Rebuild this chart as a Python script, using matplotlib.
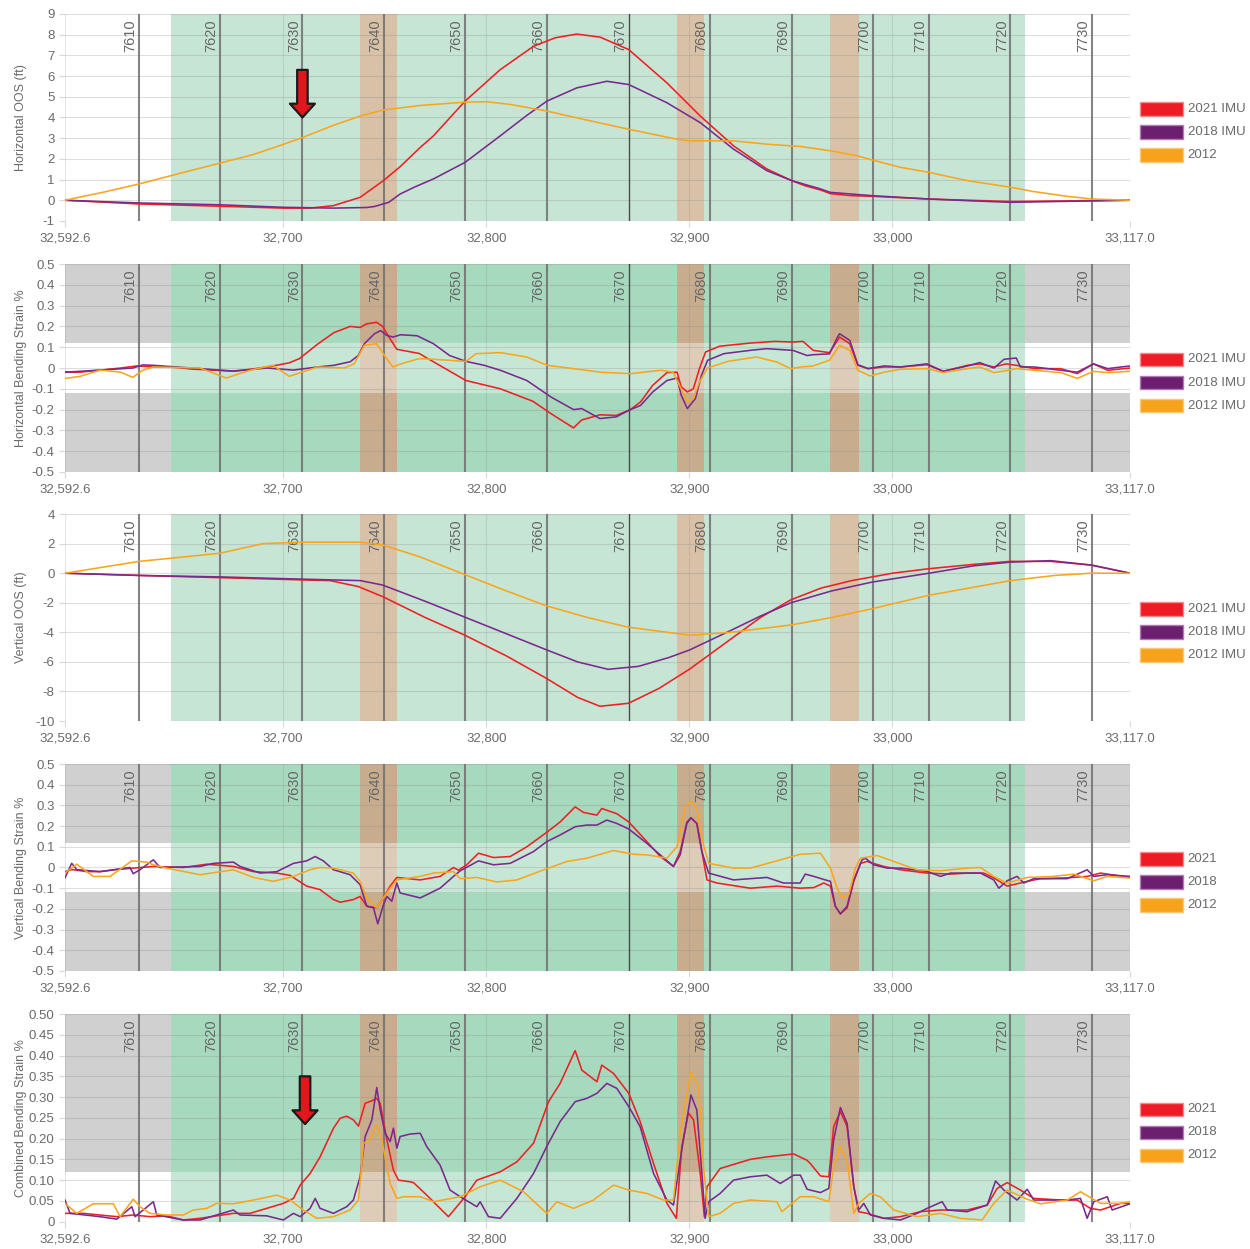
import matplotlib.pyplot as plt
from matplotlib.patches import Rectangle
import matplotlib.transforms as mtransforms

plt.rcParams['font.family'] = ['Liberation Sans', 'DejaVu Sans']

# ---- axis / layout data -------------------------------------------------
X_MIN, X_MAX = 32592.6, 33117.0
X_TICKS = [32592.6, 32700, 32800, 32900, 33000, 33117.0]
X_TICK_LABELS = ['32,592.6', '32,700', '32,800', '32,900', '33,000', '33,117.0']

STATION_LABELS = ['7610', '7620', '7630', '7640', '7650', '7660', '7670',
                  '7680', '7690', '7700', '7710', '7720', '7730']
STATION_X = [32629.2, 32669.1, 32709.5, 32749.6, 32789.6, 32829.9, 32870.3,
             32910.3, 32950.4, 32990.3, 33017.9, 33058.1, 33098.4]

GREEN_ZONE = (32644.8, 33065.5)
BROWN_ZONES = [(32738.1, 32756.3), (32893.7, 32907.1), (32969.1, 32983.6)]
STRAIN_LIMIT = 0.12

# ---- series ---------------------------------------------------------------
HOOS_2021 = [(32592.6, 0), (32629.2, -0.18), (32669.1, -0.29), (32700.1, -0.38), (32713.3, -0.38),
             (32724.8, -0.26), (32737.9, 0.14), (32749.4, 0.95), (32757.6, 1.62), (32767.5, 2.55),
             (32774.0, 3.11), (32789.6, 4.79), (32806.9, 6.31), (32823.3, 7.44), (32834, 7.85),
             (32844.6, 8.03), (32856.1, 7.88), (32870.2, 7.28), (32889.0, 5.67), (32905.4, 4.07),
             (32921.8, 2.63), (32938.2, 1.51), (32950.4, 0.95), (32957, 0.7), (32964.5, 0.5),
             (32969.5, 0.32), (32980, 0.22), (32990.3, 0.19), (33017.9, 0.06), (33058.1, -0.06),
             (33117.0, 0.0)]
HOOS_2018 = [(32592.6, 0), (32629.2, -0.13), (32669.1, -0.22), (32700.1, -0.34), (32724.8, -0.38),
             (32741.2, -0.35), (32745, -0.3), (32752, -0.1), (32757.6, 0.3), (32765, 0.65),
             (32774.0, 1.03), (32789.6, 1.83), (32806.9, 3.11), (32820, 4.1), (32829.9, 4.79),
             (32844.6, 5.43), (32859.4, 5.75), (32870.2, 5.59), (32889.0, 4.71), (32905.4, 3.75),
             (32921.8, 2.47), (32938.2, 1.43), (32950.4, 0.95), (32964.5, 0.55), (32969.5, 0.38),
             (32990.3, 0.22), (33017.9, 0.06), (33036.8, -0.02), (33058.1, -0.1), (33117.0, 0)]
HOOS_2012 = [(32592.6, 0), (32612, 0.4), (32629.2, 0.79), (32644.8, 1.19), (32669.1, 1.8),
             (32685, 2.2), (32700.1, 2.7), (32709.5, 3.03), (32724.8, 3.62), (32737.9, 4.07),
             (32749.4, 4.36), (32767.5, 4.58), (32789.6, 4.74), (32800.3, 4.76), (32811.8, 4.63),
             (32829.9, 4.31), (32847.9, 3.91), (32870.2, 3.43), (32893.9, 2.95), (32900.5, 2.87),
             (32921.8, 2.87), (32938.2, 2.71), (32954.7, 2.6), (32969.5, 2.39), (32982.6, 2.15),
             (32990.3, 1.94), (33004.0, 1.59), (33017.9, 1.35), (33036.8, 0.95), (33058.1, 0.63),
             (33069.6, 0.42), (33086.1, 0.19), (33098.4, 0.06), (33117.0, 0.0)]

HBS_2021 = [(32592.6, -0.02), (32600, -0.02), (32610, -0.01), (32620, 0.0), (32628, 0.01),
            (32636, 0.005), (32645, 0.005), (32655, -0.005), (32665, -0.01), (32675, -0.015),
            (32685, -0.005), (32695, 0.01), (32703, 0.025), (32708, 0.045), (32717, 0.115),
            (32725, 0.17), (32733, 0.2), (32738, 0.195), (32741, 0.212), (32746, 0.22),
            (32749, 0.2), (32753, 0.135), (32756, 0.09), (32767, 0.07), (32774, 0.03),
            (32790, -0.06), (32807, -0.1), (32823, -0.16), (32832, -0.22), (32843, -0.288),
            (32847, -0.25), (32856, -0.225), (32864, -0.228), (32871, -0.2), (32876, -0.163),
            (32882, -0.083), (32889, -0.022), (32894, -0.02), (32896, -0.09), (32899, -0.115),
            (32902, -0.1), (32905, -0.003), (32908, 0.077), (32915, 0.105), (32930, 0.12),
            (32942, 0.128), (32951, 0.125), (32956, 0.128), (32961, 0.085), (32969, 0.074),
            (32973, 0.133), (32974, 0.149), (32979, 0.117), (32983, 0.013), (32988, -0.003),
            (32996, 0.005), (33004, 0.005), (33017, 0.016), (33025, -0.016), (33037, 0.013),
            (33043, 0.02), (33050, 0.005), (33056, 0.02), (33061, 0.013), (33070, -0.003),
            (33083, -0.003), (33091, -0.027), (33099, 0.02), (33106, -0.011), (33117, 0.0)]
HBS_2018 = [(32592.6, -0.02), (32610, -0.01), (32626, 0.0), (32631, 0.015), (32636, 0.013),
            (32659, -0.003), (32676, -0.015), (32692, 0.0), (32705, -0.01), (32717, 0.005),
            (32725, 0.013), (32733, 0.03), (32737, 0.06), (32740, 0.117), (32745, 0.165),
            (32748, 0.18), (32751, 0.157), (32754, 0.149), (32758, 0.16), (32766, 0.155),
            (32774, 0.117), (32782, 0.06), (32790, 0.032), (32799, 0.013), (32807, -0.011),
            (32820, -0.06), (32832, -0.14), (32843, -0.2), (32847, -0.195), (32856, -0.243),
            (32864, -0.235), (32871, -0.2), (32876, -0.18), (32882, -0.115), (32889, -0.06),
            (32894, -0.048), (32896, -0.13), (32899, -0.195), (32903, -0.147), (32906, -0.035),
            (32909, 0.037), (32917, 0.069), (32930, 0.085), (32938, 0.093), (32951, 0.085),
            (32958, 0.06), (32961, 0.064), (32969, 0.068), (32973, 0.149), (32974, 0.165),
            (32979, 0.133), (32983, 0.016), (32988, -0.003), (32996, 0.01), (33004, 0.005),
            (33017, 0.02), (33025, -0.016), (33037, 0.01), (33043, 0.026), (33050, 0.0),
            (33055, 0.042), (33061, 0.048), (33063, 0.005), (33070, 0.005), (33083, -0.011),
            (33091, -0.02), (33099, 0.02), (33106, -0.003), (33117, 0.01)]
HBS_2012 = [(32592.6, -0.05), (32600, -0.04), (32610, -0.01), (32620, -0.02), (32626, -0.045),
            (32631, -0.01), (32636, 0.005), (32659, 0.0), (32672, -0.048), (32684, -0.01),
            (32695, 0.013), (32703, -0.04), (32717, 0.005), (32730, 0.0), (32735, 0.02),
            (32740, 0.109), (32746, 0.117), (32751, 0.045), (32754, 0.005), (32758, 0.02),
            (32767, 0.045), (32774, 0.042), (32790, 0.032), (32795, 0.069), (32807, 0.074),
            (32820, 0.053), (32830, 0.013), (32843, -0.003), (32856, -0.02), (32871, -0.027),
            (32886, -0.011), (32892, -0.02), (32896, -0.1), (32899, -0.16), (32902, -0.147),
            (32905, -0.067), (32909, 0.0), (32919, 0.032), (32933, 0.053), (32943, 0.029),
            (32950, -0.003), (32955, 0.005), (32961, 0.01), (32969, 0.037), (32974, 0.109),
            (32979, 0.085), (32983, -0.011), (32989, -0.038), (32996, -0.02), (33004, -0.006),
            (33017, -0.003), (33025, -0.022), (33037, -0.003), (33043, 0.005), (33050, -0.022),
            (33057, -0.011), (33061, -0.003), (33070, -0.011), (33083, -0.022), (33091, -0.05),
            (33099, -0.016), (33106, -0.022), (33117, -0.016)]

VOOS_2021 = [(32592.6, 0), (32629.1, -0.15), (32668.9, -0.3), (32709.3, -0.45), (32723.1, -0.5),
             (32737, -0.9), (32749.3, -1.6), (32770, -3.0), (32789.6, -4.2), (32810, -5.6),
             (32829.5, -7.1), (32845, -8.4), (32856, -9.0), (32870, -8.8), (32885, -7.8),
             (32900, -6.5), (32920, -4.5), (32935, -3.0), (32950, -1.8), (32965, -1.0),
             (32980, -0.5), (33000, 0.0), (33017.7, 0.3), (33040, 0.6), (33058, 0.8),
             (33078, 0.8), (33098, 0.55), (33117, 0)]
VOOS_2018 = [(32592.6, 0), (32629, -0.15), (32669, -0.25), (32709, -0.4), (32738, -0.5),
             (32749, -0.8), (32770, -1.9), (32790, -3.0), (32810, -4.1), (32830, -5.2),
             (32845, -6.0), (32860, -6.5), (32875, -6.3), (32890, -5.7), (32900, -5.2),
             (32920, -3.9), (32935, -2.9), (32950, -2.0), (32970, -1.2), (32990, -0.6),
             (33018, 0.0), (33040, 0.5), (33058, 0.75), (33078, 0.85), (33098, 0.55), (33117, 0)]
VOOS_2012 = [(32592.6, 0), (32629.1, 0.8), (32668.9, 1.35), (32690, 2.0), (32709.3, 2.1),
             (32737.9, 2.1), (32749.3, 1.9), (32767.5, 1.1), (32789.6, -0.1), (32810, -1.2),
             (32829.5, -2.2), (32850, -3.0), (32869.9, -3.65), (32900.5, -4.2), (32920.2, -4.0),
             (32950.2, -3.5), (32970, -3.0), (32990.1, -2.4), (33017.7, -1.5), (33058.1, -0.5),
             (33080, -0.15), (33098.0, 0.0), (33117.0, 0.0)]

VBS_2021 = [(32592.6, -0.02), (32595.9, -0.01), (32603.3, -0.02), (32609.8, -0.02), (32618, -0.01),
            (32626.2, -0.003), (32636.1, 0.005), (32650.9, 0.0), (32662.4, 0.016), (32675.5, 0.005),
            (32685.4, -0.02), (32696.9, -0.027), (32703.4, -0.038), (32711.6, -0.09), (32718.2, -0.107),
            (32724.8, -0.155), (32728.1, -0.168), (32734.6, -0.155), (32737.9, -0.14), (32741.2, -0.187),
            (32746.1, -0.195), (32749.4, -0.147), (32752.7, -0.09), (32756.0, -0.048), (32767.5, -0.06),
            (32777.3, -0.043), (32783.9, 0.0), (32786.3, -0.013), (32790.4, 0.013), (32796.2, 0.069),
            (32803.6, 0.048), (32811.8, 0.053), (32820.0, 0.1), (32829.8, 0.17), (32836.4, 0.22),
            (32843.8, 0.293), (32847.9, 0.266), (32854.5, 0.253), (32856.9, 0.285), (32864.3, 0.26),
            (32870.2, 0.22), (32879.1, 0.125), (32885.7, 0.053), (32892.2, 0.005), (32895.5, 0.077),
            (32898.8, 0.22), (32900.8, 0.24), (32903.7, 0.213), (32906.2, 0.077), (32908.7, -0.06),
            (32913.6, -0.075), (32930.0, -0.1), (32943.1, -0.09), (32954.6, -0.1), (32961.3, -0.097),
            (32966.2, -0.075), (32969.5, -0.09), (32971.9, -0.187), (32974.4, -0.224), (32977.7, -0.195),
            (32981.0, -0.067), (32984.3, 0.02), (32987.5, 0.029), (32995.8, 0.005), (33004.0, -0.011),
            (33017.1, -0.027), (33028.6, -0.032), (33036.8, -0.027), (33045.0, -0.027), (33049.9, -0.05),
            (33056.5, -0.09), (33066.4, -0.067), (33072.9, -0.054), (33086.1, -0.05), (33095.9, -0.043),
            (33102.5, -0.027), (33117.0, -0.048)]
VBS_2018 = [(32592.6, -0.05), (32595.9, 0.02), (32598.4, -0.01), (32609.8, -0.02), (32624.6, 0.0),
            (32626.2, -0.03), (32629.5, -0.011), (32636.1, 0.037), (32639.4, 0.0), (32659.1, 0.005),
            (32665.7, 0.02), (32675.5, 0.026), (32678.8, 0.005), (32688.7, -0.027), (32696.9, -0.02),
            (32705.1, 0.02), (32711.6, 0.032), (32715.8, 0.053), (32719.8, 0.032), (32724.8, -0.011),
            (32733.0, -0.035), (32737.9, -0.083), (32741.2, -0.187), (32744.5, -0.195), (32746.6, -0.272),
            (32749.4, -0.18), (32751.1, -0.14), (32753.5, -0.163), (32756.0, -0.075), (32757.6, -0.123),
            (32767.5, -0.147), (32777.3, -0.1), (32783.9, -0.043), (32787.2, -0.016), (32796.2, 0.032),
            (32803.6, 0.013), (32811.8, 0.02), (32823.3, 0.077), (32829.8, 0.125), (32836.4, 0.157),
            (32843.8, 0.197), (32849.6, 0.205), (32854.5, 0.205), (32859.4, 0.229), (32864.3, 0.213),
            (32870.2, 0.186), (32879.1, 0.117), (32885.7, 0.061), (32892.2, 0.005), (32895.5, 0.061),
            (32898.8, 0.213), (32900.8, 0.24), (32903.7, 0.213), (32906.2, 0.077), (32909.5, -0.027),
            (32921.8, -0.06), (32938.2, -0.048), (32946.4, -0.075), (32954.6, -0.075), (32957.1, -0.032),
            (32961.3, -0.043), (32967.0, -0.06), (32969.5, -0.067), (32971.9, -0.187), (32974.4, -0.224),
            (32977.7, -0.187), (32981.0, -0.06), (32985.1, 0.037), (32986.7, 0.045), (32990.8, 0.013),
            (32997.4, -0.003), (33004.0, -0.003), (33017.1, -0.019), (33023.7, -0.043), (33028.6, -0.027),
            (33043.4, -0.027), (33049.9, -0.06), (33052.4, -0.1), (33056.5, -0.064), (33061.4, -0.043),
            (33064.7, -0.075), (33069.6, -0.054), (33086.1, -0.054), (33095.9, -0.011), (33099.2, -0.043),
            (33105.8, -0.035), (33117.0, -0.043)]
VBS_2012 = [(32592.6, -0.027), (32598.4, 0.016), (32606.5, -0.043), (32614.8, -0.043), (32625.5, 0.032),
            (32632.8, 0.026), (32636.1, 0.013), (32642.7, -0.003), (32659.1, -0.035), (32675.5, -0.011),
            (32685.4, -0.048), (32695.2, -0.067), (32705.1, -0.043), (32713.3, -0.011), (32718.2, 0.0),
            (32724.8, -0.003), (32734.6, -0.027), (32737.9, -0.067), (32741.2, -0.147), (32746.1, -0.195),
            (32749.4, -0.147), (32752.7, -0.1), (32756.0, -0.06), (32767.5, -0.043), (32774.0, -0.027),
            (32783.9, -0.02), (32787.2, -0.054), (32795.4, -0.048), (32805.2, -0.07), (32815.1, -0.06),
            (32829.8, -0.006), (32839.7, 0.029), (32849.6, 0.045), (32862.7, 0.082), (32872.5, 0.064),
            (32879.1, 0.061), (32889.0, 0.045), (32893.9, 0.1), (32898.0, 0.285), (32900.8, 0.32),
            (32903.7, 0.285), (32906.2, 0.14), (32909.5, 0.02), (32921.8, -0.003), (32930.0, -0.003),
            (32943.1, 0.032), (32954.6, 0.064), (32964.6, 0.069), (32969.5, -0.003), (32972.8, -0.1),
            (32975.2, -0.147), (32978.5, -0.131), (32981.8, -0.003), (32984.3, 0.045), (32992.5, 0.058),
            (33000.7, 0.029), (33012.2, -0.011), (33023.7, -0.016), (33036.8, -0.003), (33043.4, 0.0),
            (33049.9, -0.043), (33056.5, -0.075), (33066.4, -0.048), (33079.5, -0.043), (33089.3, -0.032),
            (33099.2, -0.064), (33105.8, -0.043), (33117.0, -0.051)]

CBS_2021 = [(32592.6, 0.02), (32601.6, 0.02), (32609.8, 0.016), (32618.1, 0.012), (32626.2, 0.016),
            (32634.5, 0.012), (32642.7, 0.014), (32650.9, 0.004), (32659.1, 0.008), (32667.3, 0.014),
            (32675.5, 0.02), (32683.7, 0.02), (32691.9, 0.032), (32700.1, 0.044), (32705.1, 0.056),
            (32708.4, 0.088), (32713.3, 0.116), (32718.2, 0.156), (32724.8, 0.225), (32728.1, 0.249),
            (32731.3, 0.254), (32734.6, 0.245), (32737.1, 0.23), (32740.4, 0.285), (32743.7, 0.291),
            (32746.1, 0.297), (32747.8, 0.285), (32751.1, 0.197), (32754.3, 0.124), (32756.8, 0.1),
            (32762.5, 0.096), (32764.2, 0.094), (32770.7, 0.064), (32781.4, 0.012), (32789.6, 0.06),
            (32795.4, 0.1), (32806.9, 0.12), (32815.1, 0.144), (32823.3, 0.189), (32830.7, 0.289),
            (32836.4, 0.333), (32843.8, 0.412), (32847.1, 0.365), (32854.5, 0.337), (32856.9, 0.377),
            (32862.7, 0.357), (32870.2, 0.309), (32875.8, 0.241), (32882.4, 0.14), (32889.0, 0.044),
            (32893.6, 0.008), (32896.3, 0.181), (32899.6, 0.262), (32902.1, 0.245), (32905.4, 0.116),
            (32907.4, 0.012), (32908.7, 0.084), (32915.2, 0.128), (32930.0, 0.15), (32938.2, 0.156),
            (32951.4, 0.163), (32957.9, 0.148), (32959.6, 0.14), (32964.6, 0.11), (32968.7, 0.108),
            (32971.1, 0.229), (32974.4, 0.265), (32977.7, 0.229), (32981.0, 0.084), (32983.4, 0.024),
            (32987.5, 0.02), (32995.8, 0.008), (33004.0, 0.012), (33013.8, 0.024), (33023.7, 0.028),
            (33036.8, 0.028), (33046.7, 0.04), (33051.6, 0.08), (33056.5, 0.094), (33063.1, 0.076),
            (33069.6, 0.056), (33082.8, 0.052), (33091.0, 0.052), (33097.5, 0.032), (33102.5, 0.028),
            (33112.3, 0.044), (33117.0, 0.044)]
CBS_2018 = [(32592.6, 0.052), (32595.1, 0.02), (32609.8, 0.012), (32618.1, 0.006), (32625.5, 0.036),
            (32627.1, 0.012), (32636.1, 0.048), (32637.8, 0.016), (32650.9, 0.004), (32659.1, 0.004),
            (32667.3, 0.016), (32675.5, 0.028), (32678.8, 0.016), (32691.9, 0.014), (32700.1, 0.004),
            (32705.1, 0.02), (32708.4, 0.012), (32713.3, 0.032), (32715.8, 0.056), (32718.2, 0.032),
            (32724.8, 0.02), (32731.3, 0.036), (32734.6, 0.052), (32737.9, 0.108), (32740.4, 0.205),
            (32743.7, 0.245), (32746.1, 0.323), (32747.8, 0.269), (32750.2, 0.213), (32752.7, 0.193),
            (32754.3, 0.225), (32756.0, 0.177), (32757.6, 0.205), (32762.5, 0.211), (32767.5, 0.213),
            (32770.7, 0.181), (32777.3, 0.136), (32782.2, 0.076), (32787.2, 0.06), (32795.4, 0.036),
            (32797.0, 0.048), (32801.1, 0.012), (32806.9, 0.008), (32815.1, 0.056), (32823.3, 0.116),
            (32829.8, 0.181), (32836.4, 0.241), (32843.8, 0.289), (32849.6, 0.297), (32854.5, 0.309),
            (32859.4, 0.333), (32864.3, 0.321), (32870.2, 0.277), (32875.8, 0.229), (32882.4, 0.116),
            (32889.0, 0.052), (32892.2, 0.04), (32896.3, 0.173), (32900.8, 0.305), (32903.7, 0.269),
            (32906.2, 0.116), (32907.8, 0.008), (32909.5, 0.048), (32915.2, 0.068), (32921.8, 0.1),
            (32930.0, 0.108), (32938.2, 0.112), (32944.8, 0.092), (32951.4, 0.112), (32954.7, 0.112),
            (32958.0, 0.078), (32964.6, 0.07), (32968.7, 0.08), (32971.1, 0.197), (32974.4, 0.275),
            (32977.7, 0.237), (32981.0, 0.084), (32983.4, 0.028), (32985.9, 0.044), (32989.2, 0.016),
            (32995.8, 0.008), (33004.0, 0.004), (33012.2, 0.02), (33017.1, 0.032), (33024.5, 0.048),
            (33027.0, 0.028), (33036.8, 0.024), (33046.7, 0.04), (33050.8, 0.098), (33054.9, 0.076),
            (33061.4, 0.052), (33066.4, 0.078), (33069.6, 0.052), (33086.1, 0.052), (33092.6, 0.056),
            (33095.9, 0.008), (33099.2, 0.048), (33105.8, 0.06), (33108.2, 0.028), (33117.0, 0.043)]
CBS_2012 = [(32592.6, 0.044), (32598.4, 0.02), (32606.5, 0.043), (32616.4, 0.043), (32619.7, 0.012),
            (32626.2, 0.054), (32629.5, 0.036), (32634.5, 0.02), (32642.7, 0.016), (32650.9, 0.016),
            (32655.8, 0.028), (32662.4, 0.032), (32667.3, 0.044), (32675.5, 0.043), (32685.4, 0.052),
            (32696.9, 0.064), (32703.4, 0.052), (32710.0, 0.028), (32716.6, 0.008), (32724.8, 0.012),
            (32733.0, 0.028), (32737.1, 0.052), (32739.6, 0.189), (32742.8, 0.197), (32746.1, 0.233),
            (32748.6, 0.197), (32752.7, 0.092), (32756.0, 0.056), (32759.3, 0.06), (32767.5, 0.06),
            (32774.0, 0.048), (32787.2, 0.06), (32797.0, 0.084), (32806.9, 0.1), (32818.4, 0.072),
            (32829.8, 0.02), (32834.8, 0.048), (32843.0, 0.032), (32852.8, 0.052), (32862.7, 0.088),
            (32870.2, 0.076), (32879.1, 0.068), (32887.3, 0.052), (32892.2, 0.052), (32895.5, 0.213),
            (32900.8, 0.361), (32904.6, 0.325), (32907.0, 0.132), (32909.5, 0.012), (32915.2, 0.02),
            (32921.8, 0.044), (32930.0, 0.052), (32943.1, 0.048), (32945.6, 0.024), (32954.6, 0.06),
            (32961.3, 0.06), (32968.7, 0.048), (32971.1, 0.132), (32974.1, 0.181), (32977.7, 0.148),
            (32981.0, 0.02), (32983.4, 0.044), (32989.2, 0.068), (32994.1, 0.06), (33000.7, 0.028),
            (33012.2, 0.012), (33023.7, 0.02), (33033.5, 0.008), (33044.2, 0.004), (33049.9, 0.044),
            (33056.5, 0.076), (33066.4, 0.054), (33072.9, 0.043), (33086.1, 0.052), (33092.6, 0.072),
            (33102.5, 0.044), (33112.3, 0.044), (33117.0, 0.048)]

STRAIN_TICKS = [0.5, 0.4, 0.3, 0.2, 0.1, 0, -0.1, -0.2, -0.3, -0.4, -0.5]
STRAIN_TICK_LABELS = ['0.5', '0.4', '0.3', '0.2', '0.1', '0', '-0.1', '-0.2', '-0.3', '-0.4', '-0.5']
CBS_TICKS = [0.5, 0.45, 0.4, 0.35, 0.3, 0.25, 0.2, 0.15, 0.1, 0.05, 0]
CBS_TICK_LABELS = ['0.50', '0.45', '0.40', '0.35', '0.30', '0.25', '0.20', '0.15', '0.10', '0.05', '0']

# ---- styles -----------------------------------------------------------------
LINE_COLORS = ['#ee2024', '#7a2a8c', '#f9a61c']
PATCH_COLORS = ['#ed1c24', '#6d1f6f', '#f7a21b']
PATCH_EDGES = ['#f58a8e', '#b27ab3', '#fbc878']
TEXT_GREY = '#6a6a6a'


def shade(ax, ylo, yhi, band=None):
    g0, g1 = GREEN_ZONE
    if band is None:
        ax.axvspan(g0, g1, color='#c6e5d5', lw=0, zorder=0.5)
        for b0, b1 in BROWN_ZONES:
            ax.axvspan(b0, b1, color='#d8c1a6', lw=0, zorder=0.6)
        return
    lo, hi = band
    for x0, x1 in [(X_MIN, g0), (g1, X_MAX)]:
        ax.add_patch(Rectangle((x0, hi), x1 - x0, yhi - hi, fc='#d0d0d0', lw=0, zorder=0.5))
        if lo > ylo:
            ax.add_patch(Rectangle((x0, ylo), x1 - x0, lo - ylo, fc='#d0d0d0', lw=0, zorder=0.5))
    ax.axvspan(g0, g1, color='#a6d9be', lw=0, zorder=0.5)
    for b0, b1 in BROWN_ZONES:
        ax.axvspan(b0, b1, color='#c7ad8e', lw=0, zorder=0.6)
    ax.add_patch(Rectangle((g0, lo), g1 - g0, hi - lo, fc='white', alpha=0.38, lw=0, zorder=0.7))


def stations(ax):
    trans = mtransforms.blended_transform_factory(ax.transData, ax.transAxes)
    for lab, x in zip(STATION_LABELS, STATION_X):
        dark = lab == '7670'
        ax.axvline(x, color='#333333' if dark else '#707070', lw=1.0 if dark else 1.5,
                   alpha=0.85, zorder=2)
        ax.text(x - 0.8, 0.975, lab, rotation=90, ha='right', va='top', fontsize=10.5,
                color='#666666', transform=trans, zorder=2.5)


def legend(ax, labels):
    for i, (lab, fc, ec) in enumerate(zip(labels, PATCH_COLORS, PATCH_EDGES)):
        yc = 0.541 - 0.111 * i
        ax.add_patch(Rectangle((1.0095, yc - 0.032), 0.0405, 0.064, transform=ax.transAxes,
                               fc=fc, ec=ec, lw=1.0, clip_on=False))
        ax.text(1.054, yc, lab, transform=ax.transAxes, ha='left', va='center',
                fontsize=9.5, color=TEXT_GREY)


def arrow(ax, x, tail, head):
    ax.annotate('', xy=(x, head), xytext=(x, tail), zorder=6,
                arrowprops=dict(arrowstyle='simple,head_length=0.55,head_width=1.0,tail_width=0.42',
                                fc='#e3161e', ec='#1a1a1a', lw=1.6, mutation_scale=18,
                                shrinkA=0, shrinkB=0))


def panel(fig, rect, series, ylim, yticks, yticklabels, ylabel, labels, band=None):
    ax = fig.add_axes(rect)
    ax.set_xlim(X_MIN, X_MAX)
    ax.set_ylim(*ylim)
    shade(ax, ylim[0], ylim[1], band)
    for y in yticks:
        ax.axhline(y, color='#8a8a8a', alpha=0.28, lw=0.8, zorder=1)
    for x in X_TICKS:
        ax.axvline(x, color='#8a8a8a', alpha=0.22, lw=0.8, zorder=1)
    stations(ax)
    for pts, col in zip(series, LINE_COLORS):
        ax.plot([p[0] for p in pts], [p[1] for p in pts], color=col, lw=1.15, zorder=3)
    for s in ax.spines.values():
        s.set_visible(False)
    ax.set_xticks(X_TICKS)
    ax.set_xticklabels(X_TICK_LABELS)
    ax.set_yticks(yticks)
    ax.set_yticklabels(yticklabels)
    ax.tick_params(axis='both', length=4.5, width=0.8, color='#d8d8d8', labelsize=9.5,
                   labelcolor=TEXT_GREY, pad=3)
    ax.tick_params(axis='x', pad=4)
    ax.set_ylabel(ylabel, fontsize=9, color=TEXT_GREY)
    ax.yaxis.set_label_coords(-0.036, 0.5)
    legend(ax, labels)
    return ax


fig = plt.figure(figsize=(12.5, 12.49), dpi=100)
L, W = 0.052, 0.852

ax1 = panel(fig, [L, 0.8231, W, 0.1657], [HOOS_2021, HOOS_2018, HOOS_2012], (-1, 9),
            list(range(-1, 10)), [str(v) for v in range(-1, 10)], 'Horizontal OOS (ft)',
            ['2021 IMU', '2018 IMU', '2012'])
arrow(ax1, 32709.5, 6.3, 4.0)

panel(fig, [L, 0.6221, W, 0.1665], [HBS_2021, HBS_2018, HBS_2012], (-0.5, 0.5),
      STRAIN_TICKS, STRAIN_TICK_LABELS, 'Horizontal Bending Strain %',
      ['2021 IMU', '2018 IMU', '2012 IMU'], band=(-STRAIN_LIMIT, STRAIN_LIMIT))

panel(fig, [L, 0.4227, W, 0.1657], [VOOS_2021, VOOS_2018, VOOS_2012], (-10, 4),
      list(range(-10, 5, 2)), [str(v) for v in range(-10, 5, 2)], 'Vertical OOS (ft)',
      ['2021 IMU', '2018 IMU', '2012 IMU'])

panel(fig, [L, 0.2226, W, 0.1657], [VBS_2021, VBS_2018, VBS_2012], (-0.5, 0.5),
      STRAIN_TICKS, STRAIN_TICK_LABELS, 'Vertical Bending Strain %',
      ['2021', '2018', '2012'], band=(-STRAIN_LIMIT, STRAIN_LIMIT))

ax5 = panel(fig, [L, 0.0219, W, 0.1662], [CBS_2021, CBS_2018, CBS_2012], (0, 0.5),
            CBS_TICKS, CBS_TICK_LABELS, 'Combined Bending Strain %',
            ['2021', '2018', '2012'], band=(0, STRAIN_LIMIT))
arrow(ax5, 32710.8, 0.35, 0.235)

fig.savefig('out.png', dpi=100)
